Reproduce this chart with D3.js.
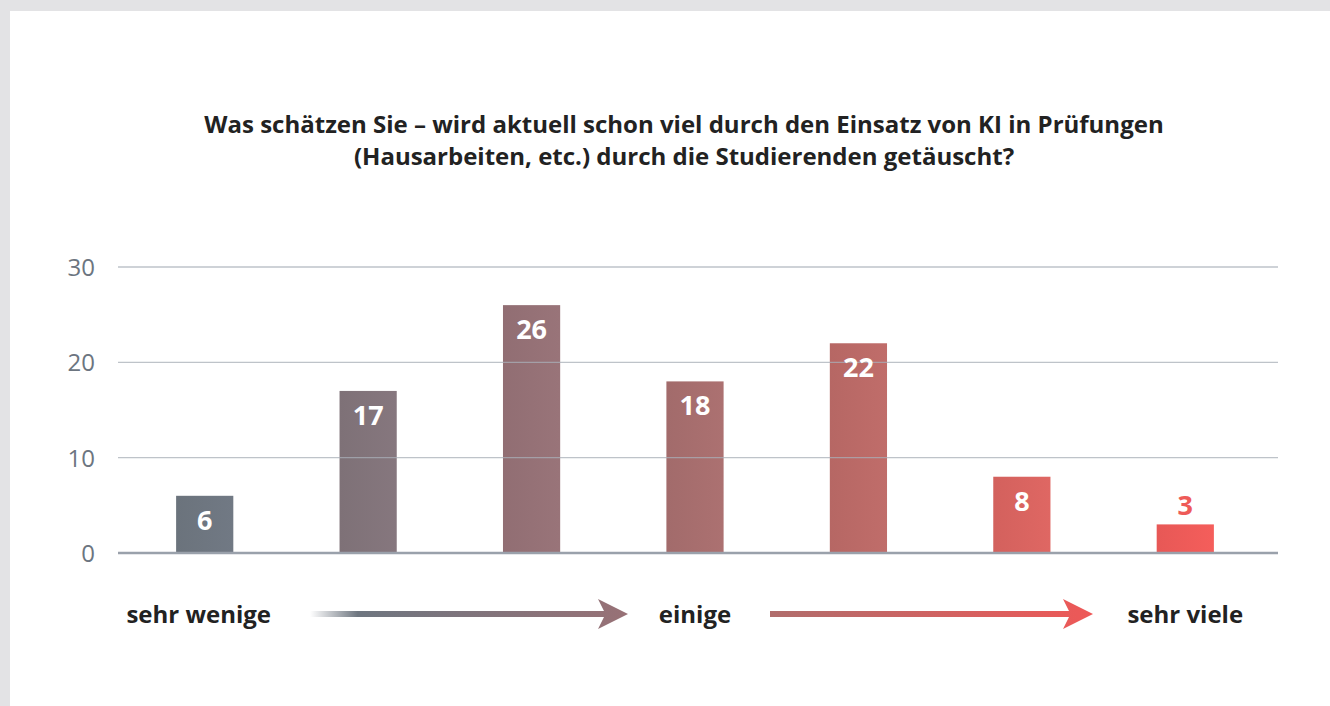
<!DOCTYPE html>
<html>
<head>
<meta charset="utf-8">
<script src="https://cdn.jsdelivr.net/npm/d3@7"></script>
<style>
  body { margin: 0; background: #e3e3e5; }
  svg { display: block; font-family: "Open Sans", "Noto Sans", sans-serif; }
  .grid line { stroke: #a9afb8; stroke-width: 1.3; opacity: 0.75; }
  .grid .zero { stroke: #9aa1ab; stroke-width: 2.5; opacity: 1; }
  .tick-label { fill: #6c7580; font-size: 24px; text-anchor: end; }
  .title { font-size: 24px; font-weight: 700; fill: #222; text-anchor: middle; }
  .bar-label { font-size: 27px; font-weight: 700; fill: #fff; text-anchor: middle; }
  .scale-label { font-size: 24px; font-weight: 700; fill: #222; text-anchor: middle; }
</style>
</head>
<body>
<div id="chart"></div>
<script>
var categories = ['1', '2', '3', '4', '5', '6', '7'];
var values = [6, 17, 26, 18, 22, 8, 3];
var barColors = ['#6e7680', '#82747a', '#957176', '#a76e6e', '#bb6a67', '#d96460', '#ee5b58'];
var yTicks = [0, 10, 20, 30];
var scaleLabels = ['sehr wenige', 'einige', 'sehr viele'];
var titleLines = [
    'Was schätzen Sie – wird aktuell schon viel durch den Einsatz von KI in Prüfungen',
    '(Hausarbeiten, etc.) durch die Studierenden getäuscht?'
];

var width = 1330,
    height = 706;

var svg = d3.select('#chart')
    .append('svg')
    .attr('width', width)
    .attr('height', height);

var defs = svg.append('defs');

// white panel on grey page
svg.append('rect')
    .attr('x', 10)
    .attr('y', 11)
    .attr('width', width - 10)
    .attr('height', height - 11)
    .attr('fill', '#fff');

// title
svg.append('g').selectAll('text')
    .data(titleLines)
    .enter()
    .append('text')
    .attr('class', 'title')
    .attr('x', 684)
    .attr('y', function(d, i) { return 133 + i * 32; })
    .text(function(d) { return d; });

var x = d3.scaleBand()
    .domain(categories)
    .range([123, 1267])
    .paddingInner(0.65)
    .paddingOuter(0.325);

var y = d3.scaleLinear()
    .domain([0, 30])
    .range([553, 267]);

// bars, each with a slight horizontal shading
var bars = svg.append('g');
values.forEach(function(v, i) {
    var c = d3.color(barColors[i]);
    var grad = defs.append('linearGradient')
        .attr('id', 'bar' + i)
        .attr('x1', 0).attr('x2', 1).attr('y1', 0).attr('y2', 0);
    grad.append('stop').attr('offset', '0%').attr('stop-color', c.darker(0.08));
    grad.append('stop').attr('offset', '100%').attr('stop-color', c.brighter(0.08));
});

bars.selectAll('rect')
    .data(values)
    .enter()
    .append('rect')
    .attr('x', function(d, i) { return x(categories[i]); })
    .attr('y', function(d) { return y(d); })
    .attr('width', x.bandwidth())
    .attr('height', function(d) { return y(0) - y(d); })
    .attr('fill', function(d, i) { return 'url(#bar' + i + ')'; });

// gridlines on top of bars
var grid = svg.append('g').attr('class', 'grid');
grid.selectAll('line')
    .data(yTicks)
    .enter()
    .append('line')
    .attr('class', function(d) { return d === 0 ? 'zero' : null; })
    .attr('x1', 118)
    .attr('x2', 1278)
    .attr('y1', function(d) { return y(d); })
    .attr('y2', function(d) { return y(d); });

svg.append('g').selectAll('text')
    .data(yTicks)
    .enter()
    .append('text')
    .attr('class', 'tick-label')
    .attr('x', 95)
    .attr('y', function(d) { return y(d) + 9; })
    .text(function(d) { return d; });

// value labels (small bars get theirs above the bar)
svg.append('g').selectAll('text')
    .data(values)
    .enter()
    .append('text')
    .attr('class', 'bar-label')
    .attr('x', function(d, i) { return x(categories[i]) + x.bandwidth() / 2; })
    .attr('y', function(d) {
        return d < 5 ? y(d) - 9 : y(d) + 34;
    })
    .style('fill', function(d, i) { return d < 5 ? barColors[i] : null; })
    .text(function(d) { return d; });

// scale labels under first, middle and last bar
var labelCats = [categories[0], categories[3], categories[6]];
svg.append('g').selectAll('text')
    .data(scaleLabels)
    .enter()
    .append('text')
    .attr('class', 'scale-label')
    .attr('x', function(d, i) { return x(labelCats[i]) + x.bandwidth() / 2 + (i === 0 ? -6 : 0); })
    .attr('y', 623)
    .text(function(d) { return d; });

// gradient arrows
var arrows = [
    { x1: 310, x2: 628, stops: [['0%', '#6e7680', 0], ['15%', '#6e7680', 1], ['100%', '#987176', 1]] },
    { x1: 770, x2: 1093, stops: [['0%', '#b06d6c', 1], ['100%', '#ee5857', 1]] }
];
var arrowY = 614;
arrows.forEach(function(a, i) {
    var g = defs.append('linearGradient')
        .attr('id', 'arrow' + i)
        .attr('gradientUnits', 'userSpaceOnUse')
        .attr('x1', a.x1).attr('x2', a.x2).attr('y1', 0).attr('y2', 0);
    a.stops.forEach(function(s) {
        g.append('stop')
            .attr('offset', s[0])
            .attr('stop-color', s[1])
            .attr('stop-opacity', s[2]);
    });
    var head = 30;
    svg.append('path')
        .attr('d', [
            'M', a.x1, arrowY - 3,
            'L', a.x2 - head + 6, arrowY - 3,
            'L', a.x2 - head, arrowY - 15,
            'L', a.x2, arrowY,
            'L', a.x2 - head, arrowY + 15,
            'L', a.x2 - head + 6, arrowY + 3,
            'L', a.x1, arrowY + 3, 'Z'
        ].join(' '))
        .attr('fill', 'url(#arrow' + i + ')');
});
</script>
</body>
</html>
